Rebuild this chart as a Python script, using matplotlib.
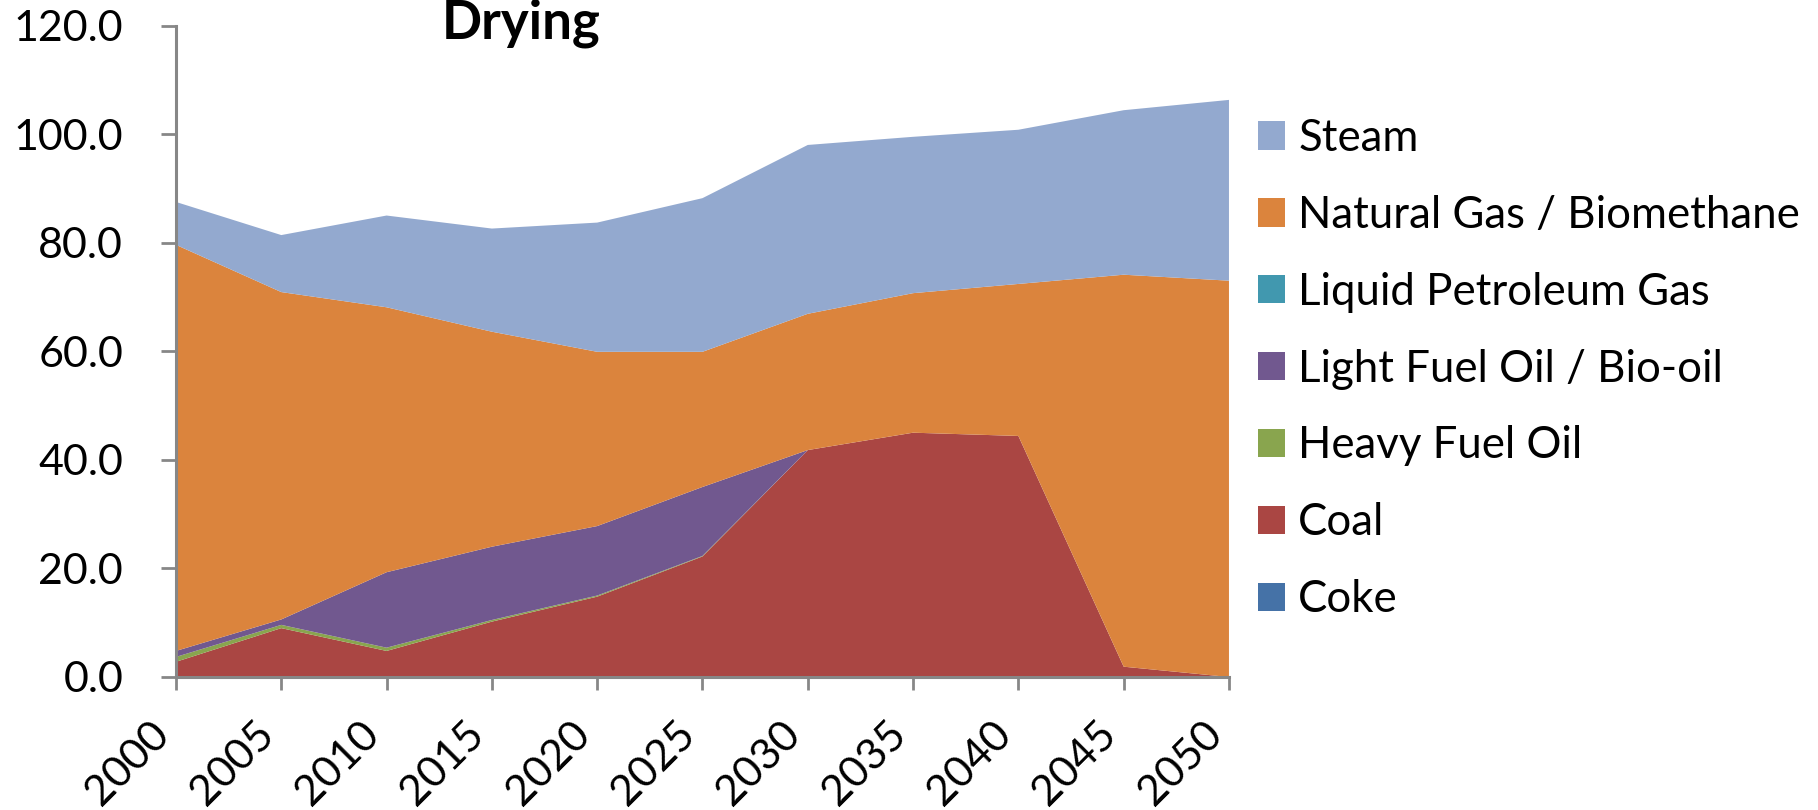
import numpy as np
import matplotlib
matplotlib.use("Agg")
import matplotlib.pyplot as plt
from matplotlib.patches import Patch

plt.rcParams['font.family'] = ['Lato', 'DejaVu Sans']

# Drying energy use by fuel, 2000-2050
years = [2000, 2005, 2010, 2015, 2020, 2025, 2030, 2035, 2040, 2045, 2050]
coke = [0, 0, 0, 0, 0, 0, 0, 0, 0, 0, 0]
coal = [2.8, 9.0, 4.8, 10.2, 14.8, 22.2, 41.8, 45.0, 44.4, 1.9, 0.0]
heavy_fuel_oil = [0.9, 0.6, 0.6, 0.3, 0.2, 0.1, 0, 0, 0, 0, 0]
light_fuel_oil = [1.1, 1.0, 13.9, 13.5, 12.8, 12.7, 0, 0, 0, 0, 0]
lpg = [0, 0, 0, 0, 0, 0, 0, 0, 0, 0, 0]
natural_gas = [74.8, 60.3, 48.8, 39.6, 32.1, 24.9, 25.1, 25.7, 28.0, 72.2, 73.0]
steam = [7.9, 10.5, 16.9, 19.0, 23.8, 28.3, 31.1, 28.8, 28.4, 30.3, 33.3]

labels = ["Coke", "Coal", "Heavy Fuel Oil", "Light Fuel Oil / Bio-oil",
          "Liquid Petroleum Gas", "Natural Gas / Biomethane", "Steam"]
colors = ["#4572A7", "#AA4643", "#89A54E", "#71588F", "#4198AF", "#DB843D", "#93A9CF"]

fig = plt.figure(figsize=(18.18, 8.10), dpi=100)
ax = fig.add_axes([0.0968, 0.1642, 0.5792, 0.8043])

ax.stackplot(years, coke, coal, heavy_fuel_oil, light_fuel_oil, lpg, natural_gas, steam,
             colors=colors, linewidth=0)

ax.set_xlim(2000, 2050)
ax.set_ylim(0, 120)
ax.set_xticks(years)
ax.set_xticklabels([str(y) for y in years], rotation=45, ha='right', va='top')
ax.set_yticks(np.arange(0, 121, 20))
ax.set_yticklabels(["%.1f" % v for v in np.arange(0, 121, 20)])

grey = "#878787"
for side in ["top", "right"]:
    ax.spines[side].set_visible(False)
for side in ["left", "bottom"]:
    ax.spines[side].set_color(grey)
    ax.spines[side].set_linewidth(2.2)
ax.tick_params(axis='y', length=11, width=2, color=grey, labelsize=31, pad=27)
ax.tick_params(axis='x', length=9, width=2, color=grey, labelsize=31, pad=18)

fig.text(521 / 1818, 0.953, "Drying", ha='center', va='baseline',
         fontsize=38, fontweight='bold')

handles = [Patch(facecolor=c, edgecolor='none') for c in colors]
ax.legend(handles[::-1], labels[::-1], loc='center left',
          bbox_to_anchor=(1258 / 1818, 0.5444), bbox_transform=fig.transFigure,
          frameon=False, fontsize=31.5, handlelength=0.62, handleheight=0.62,
          handletextpad=0.3, labelspacing=0.82, borderpad=0, borderaxespad=0)

fig.savefig("out.png", dpi=100)
